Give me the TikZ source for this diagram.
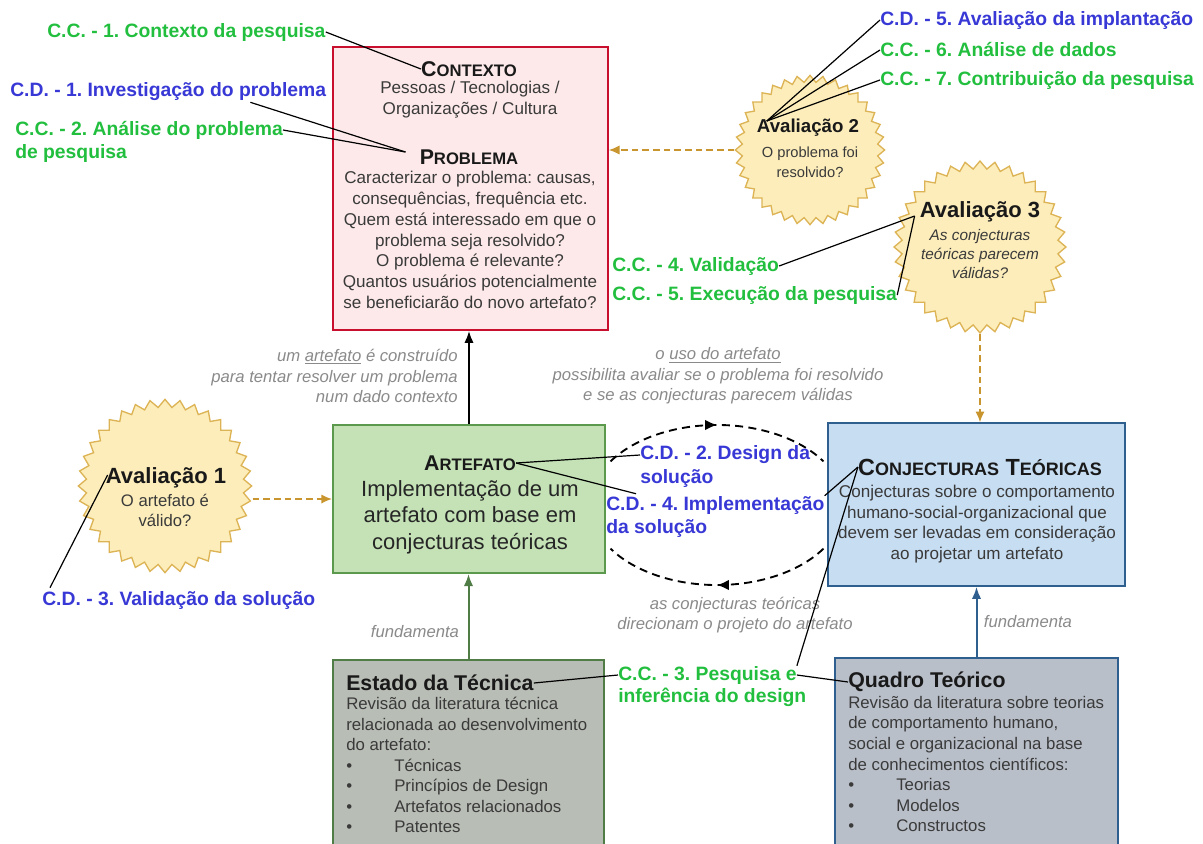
\documentclass[tikz,border=0pt]{standalone}
\usepackage{fontspec}
\setmainfont{Liberation Sans}
\usetikzlibrary{arrows.meta,positioning,calc,shapes.geometric,decorations.markings}
\definecolor{ccgreen}{HTML}{22BF3F}
\definecolor{cdblue}{HTML}{3838D6}
\definecolor{ctxred}{HTML}{C8102E}
\definecolor{ctxfill}{HTML}{FDE9E9}
\definecolor{artgreen}{HTML}{5B9A4C}
\definecolor{artfill}{HTML}{C4E2B6}
\definecolor{conjblue}{HTML}{2F5F8F}
\definecolor{conjfill}{HTML}{C7DDF2}
\definecolor{estgreen}{HTML}{4F7D45}
\definecolor{estfill}{HTML}{B8BDB5}
\definecolor{quadfill}{HTML}{B9BFC9}
\definecolor{starfill}{HTML}{FCEDBB}
\definecolor{stardraw}{HTML}{DDB455}
\definecolor{gold}{HTML}{C9952E}
\definecolor{notegray}{HTML}{8A8A8A}
\definecolor{bodygray}{HTML}{3A3A3A}
\newcommand{\sctitle}[3][12.5]{#2{\fontsize{#1}{15}\selectfont #3}}
\frenchspacing

\begin{document}
\begin{tikzpicture}[x=0.75pt,y=-0.75pt,
  box/.style={draw,line width=1.5pt,inner sep=0pt},
  burst/.style={star,star points=36,star point ratio=1.1,draw=stardraw,line width=1pt,fill=starfill,inner sep=0pt},
  cc/.style={font=\fontsize{14.5}{17}\selectfont\bfseries,text=ccgreen,inner sep=0pt,anchor=west},
  cd/.style={cc,text=cdblue},
  callout/.style={line width=0.9pt},
  body/.style={font=\fontsize{12.8}{15.6}\selectfont,text=bodygray,align=center,inner sep=0pt},
  list/.style={font=\fontsize{12.6}{15.4}\selectfont,text=bodygray,align=left,inner sep=0pt,anchor=west},
  note/.style={font=\fontsize{12.5}{15.4}\selectfont\itshape,text=notegray,inner sep=0pt},
  boxtitle/.style={font=\fontsize{16}{19}\selectfont\bfseries,text=black!90,inner sep=0pt},
  feedback/.style={gold,dash pattern=on 5pt off 3pt,line width=1.2pt,-{Latex[length=8pt,width=7pt]}},
  cycleline/.style={dash pattern=on 6pt off 4pt,line width=1.4pt,postaction={decorate},
    decoration={markings,mark=at position 0.5 with {\arrow{Latex[length=9pt,width=8pt]}}}},
]
  \useasboundingbox (0,0) rectangle (1203,843);
  \clip (0,0) rectangle (1203,843);
  \fill[white] (0,0) rectangle (1203,843);

  % boxes
  \node[box,draw=ctxred,fill=ctxfill,minimum width=206pt,minimum height=212pt] (ctxBox) at (470.5,188.5) {};
  \node[box,draw=artgreen,fill=artfill,minimum width=204pt,minimum height=111pt] (artBox) at (469,499) {};
  \node[box,draw=conjblue,fill=conjfill,minimum width=223pt,minimum height=122pt] (conjBox) at (976.5,504.5) {};
  \node[box,draw=estgreen,fill=estfill,minimum width=203pt,minimum height=180pt] (estBox) at (468.5,780) {};
  \node[box,draw=conjblue,fill=quadfill,minimum width=212pt,minimum height=182pt] (quadBox) at (976.5,779) {};

  \node[boxtitle] (ctxTitle) at (469,69) {\sctitle{C}{ONTEXTO}};
  \node[body] (ctxText) at (470,100) {Pessoas / Tecnologias /\\Organizações / Cultura};
  \node[boxtitle] (prbTitle) at (469,157) {\sctitle{P}{ROBLEMA}};
  \node[body] (prbText) at (470,240) {Caracterizar o problema: causas,\\consequências, frequência etc.\\Quem está interessado em que o\\problema seja resolvido?\\O problema é relevante?\\Quantos usuários potencialmente\\se beneficiarão do novo artefato?};

  \node[boxtitle] (artTitle) at (470,463) {\sctitle{A}{RTEFATO}};
  \node[body,font=\fontsize{16.5}{20}\selectfont,text=black!85] (artText) at (470,517) {Implementação de um\\artefato com base em\\conjecturas teóricas};

  \node[boxtitle,font=\fontsize{17.5}{20}\selectfont\bfseries] (conjTitle) at (980,467) {\sctitle[13.5]{C}{ONJECTURAS} \sctitle[13.5]{T}{EÓRICAS}};
  \node[body] (conjText) at (977,524) {Conjecturas sobre o comportamento\\humano-social-organizacional que\\devem ser levadas em consideração\\ao projetar um artefato};

  \node[boxtitle,anchor=west] (estTitle) at (346,683) {Estado da Técnica};
  \node[list] (estText) at (346,765) {Revisão da literatura técnica\\relacionada ao desenvolvimento\\do artefato:\\
    \makebox[36pt][l]{\textbullet}Técnicas\\\makebox[36pt][l]{\textbullet}Princípios de Design\\
    \makebox[36pt][l]{\textbullet}Artefatos relacionados\\\makebox[36pt][l]{\textbullet}Patentes};

  \node[boxtitle,anchor=west] (quadTitle) at (848,682) {Quadro Teórico};
  \node[list] (quadText) at (848,764) {Revisão da literatura sobre teorias\\de comportamento humano,\\social e organizacional na base\\de conhecimentos científicos:\\
    \makebox[36pt][l]{\textbullet}Teorias\\\makebox[36pt][l]{\textbullet}Modelos\\\makebox[36pt][l]{\textbullet}Constructos};

  % evaluations
  \node[burst,minimum size=130pt] (av1) at (165,486) {};
  \node[burst,minimum size=112pt] (av2) at (810,150) {};
  \node[burst,minimum size=129pt] (av3) at (980,247) {};
  \node[boxtitle,font=\fontsize{16.5}{19}\selectfont\bfseries] (av1Title) at (166,478) {Avaliação 1};
  \node[body,font=\fontsize{12.5}{15}\selectfont] (av1Text) at (165,510) {O artefato é\\válido?};
  \node[boxtitle,font=\fontsize{14}{17}\selectfont\bfseries] (av2Title) at (808,128) {Avaliação 2};
  \node[body,font=\fontsize{11}{15}\selectfont] (av2Text) at (810,162) {O problema foi\\resolvido?};
  \node[boxtitle,font=\fontsize{16.5}{19}\selectfont\bfseries] (av3Title) at (980,212) {Avaliação 3};
  \node[body,font=\fontsize{11.5}{14.5}\selectfont\itshape] (av3Text) at (980,254) {As conjecturas\\teóricas parecem\\válidas?};

  % notes
  \node[note,align=right,anchor=east] (buildNote) at (458,376) {um \underline{artefato} é construído\\para tentar resolver um problema\\num dado contexto};
  \node[note,align=center] (useNote) at (718,376) {o \underline{uso do artefato}\\possibilita avaliar se o problema foi resolvido\\e se as conjecturas parecem válidas};
  \node[note,align=center] (guideNote) at (735,615) {as conjecturas teóricas\\direcionam o projeto do artefato};
  \node[note] (fundEst) at (415,632) {fundamenta};
  \node[note] (fundQuad) at (1028,622) {fundamenta};

  % arrows
  \draw[line width=1.5pt,-{Latex[length=9pt,width=7pt]}] (artBox.north) -- (artBox.north |- ctxBox.south);
  \draw[estgreen,line width=1.5pt,-{Latex[length=9pt,width=7pt]}] (estBox.north) -- (estBox.north |- artBox.south);
  \draw[conjblue,line width=1.5pt,-{Latex[length=9pt,width=7pt]}] (quadBox.north) -- (conjBox.south);
  \draw[feedback] (av1.east |- artBox.west) -- (artBox.west);
  \draw[feedback] (av2.west) -- (av2.west -| ctxBox.east);
  \draw[feedback] (av3.south) -- (av3.south |- conjBox.north);

  \coordinate (cycTop) at (610.5,461.4);
  \coordinate (cycBot) at (823.5,548.6);
  \draw[cycleline] (cycTop) arc[start angle=147,end angle=33,x radius=95.25pt,y radius=60pt];
  \draw[cycleline] (cycBot) arc[start angle=327,end angle=213,x radius=95.25pt,y radius=60pt];

  % callouts
  \node[cc] (cc1) at (47,32) {C.C. - 1. Contexto da pesquisa};
  \node[cd] (cd1) at (10,92) {C.D. - 1. Investigação do problema};
  \node[cc] (cc2) at (15,130) {C.C. - 2. Análise do problema};
  \node[cc] (cc2b) at (15,153) {de pesquisa};
  \node[cd] (cd5) at (880,20) {C.D. - 5. Avaliação da implantação};
  \node[cc] (cc6) at (880,50) {C.C. - 6. Análise de dados};
  \node[cc] (cc7) at (880,80) {C.C. - 7. Contribuição da pesquisa};
  \node[cc] (cc4) at (612,266) {C.C. - 4. Validação};
  \node[cc] (cc5) at (612,295) {C.C. - 5. Execução da pesquisa};
  \node[cd] (cd2) at (640,455) {C.D. - 2. Design da};
  \node[cd] (cd2b) at (640,478) {solução};
  \node[cd] (cd4) at (606,505) {C.D. - 4. Implementação};
  \node[cd] (cd4b) at (606,528) {da solução};
  \node[cd] (cd3) at (42,600) {C.D. - 3. Validação da solução};
  \node[cc] (cc3) at (618,675) {C.C. - 3. Pesquisa e};
  \node[cc] (cc3b) at (618,697) {inferência do design};

  \draw[callout] (cc1.east) -- (ctxTitle.west);
  \coordinate (prbIn) at ($(prbTitle.west)+(-14,-5)$);
  \draw[callout] ($(cd1.south east)+(-76,1)$) -- (prbIn);
  \draw[callout] (cc2.east) -- (prbIn);
  \coordinate (av2In) at ($(av2Title.north west)+(10,2)$);
  \foreach \lbl in {cd5,cc6,cc7}
    \draw[callout] (\lbl.west) -- (av2In);
  \coordinate (av3In) at ($(av3Title.west)+(-5,4)$);
  \draw[callout] (cc4.east) -- (av3In);
  \draw[callout] (cc5.east) -- (av3In);
  \draw[callout] ($(cd3.north west)+(8,-3)$) -- ($(av1Title.west)+(2,-3)$);
  \draw[callout] (artTitle.east) -- (cd2.west);
  \draw[callout] (artTitle.east) -- ($(cd4.north west)+(30,-2)$);
  \draw[callout] (cd4.north east) -- (conjTitle.west);
  \draw[callout] (cc3.north east) -- (conjTitle.west);
  \draw[callout] (estTitle.east) -- (cc3.west);
  \draw[callout] (cc3.east) -- (quadTitle.west);
\end{tikzpicture}
\end{document}
